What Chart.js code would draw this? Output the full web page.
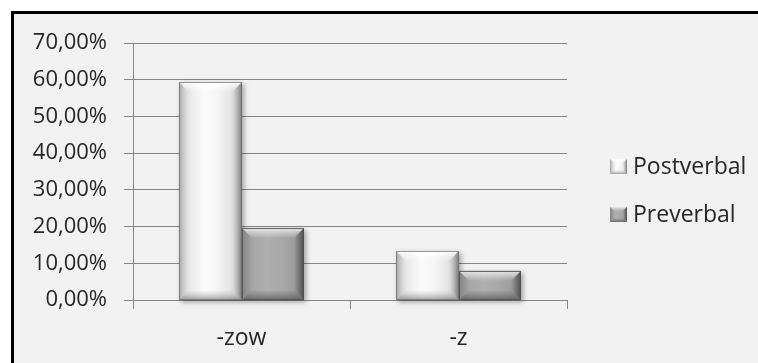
<!DOCTYPE html>
<html>
<head>
<meta charset="utf-8">
<script src="https://cdn.jsdelivr.net/npm/chart.js@4"></script>
<style>
  html, body { margin: 0; padding: 0; background: #ffffff; }
  canvas { display: block; }
</style>
</head>
<body>
<canvas id="chart" width="758" height="363"></canvas>
<script>
// Share of each ending by verb position
const categories = ['-zow', '-z'];
const seriesNames = ['Postverbal', 'Preverbal'];
const postverbal = [59.3, 13.4];
const preverbal = [19.5, 8.0];
const yTicks = [0, 10, 20, 30, 40, 50, 60, 70];

const FONT = "'Open Sans', sans-serif";
const TEXT = '#262626';
const LINE = '#868686';

// Bevelled fill schemes for the two series
const palettes = [
  {
    base: '#f2f2f2',
    body: ['#d2d2d2', '#ececec', '#fbfbfb', '#f6f6f6', '#e6e6e6', '#cbcbcb'],
    top: ['rgba(255,255,255,0.95)', 'rgba(255,255,255,0)'],
    left: ['rgba(135,135,135,0.6)', 'rgba(200,200,200,0)'],
    right: ['rgba(170,170,170,0)', 'rgba(100,100,100,0.8)'],
    bottom: ['rgba(170,170,170,0)', 'rgba(115,115,115,0.65)'],
    edge: 'rgba(110,110,110,0.7)'
  },
  {
    base: '#a9a9a9',
    body: ['#999999', '#a8a8a8', '#afafaf', '#aaaaaa', '#a0a0a0', '#909090'],
    top: ['rgba(238,238,238,0.9)', 'rgba(238,238,238,0)'],
    left: ['rgba(110,110,110,0.5)', 'rgba(110,110,110,0)'],
    right: ['rgba(80,80,80,0)', 'rgba(65,65,65,0.85)'],
    bottom: ['rgba(80,80,80,0)', 'rgba(75,75,75,0.65)'],
    edge: 'rgba(80,80,80,0.85)'
  }
];

function poly(ctx, pts, fill) {
  ctx.beginPath();
  ctx.moveTo(pts[0][0], pts[0][1]);
  for (let i = 1; i < pts.length; i++) ctx.lineTo(pts[i][0], pts[i][1]);
  ctx.closePath();
  ctx.fillStyle = fill;
  ctx.fill();
}

function grad(ctx, x0, y0, x1, y1, stops) {
  const g = ctx.createLinearGradient(x0, y0, x1, y1);
  stops.forEach((c, i, a) => g.addColorStop(i / (a.length - 1), c));
  return g;
}

function bevelBox(ctx, l, t, r, b, pal, bev, shadow, edge) {
  const w = r - l, h = b - t;
  if (w <= 0 || h <= 0) return;
  const k = Math.min(bev, w / 2, h / 2);
  ctx.save();
  if (shadow) {
    ctx.save();
    ctx.shadowColor = 'rgba(0,0,0,0.35)';
    ctx.shadowBlur = 5;
    ctx.shadowOffsetX = 2;
    ctx.shadowOffsetY = 2;
    ctx.fillStyle = pal.base;
    ctx.fillRect(l, t, w, h);
    ctx.restore();
  }
  ctx.fillStyle = grad(ctx, l, 0, r, 0, pal.body);
  ctx.fillRect(l, t, w, h);
  ctx.beginPath();
  ctx.rect(l, t, w, h);
  ctx.clip();
  poly(ctx, [[l, t], [r, t], [r - k, t + k], [l + k, t + k]], grad(ctx, 0, t, 0, t + k, pal.top));
  poly(ctx, [[l, t], [l + k, t + k], [l + k, b - k], [l, b]], grad(ctx, l, 0, l + k, 0, pal.left));
  poly(ctx, [[r, t], [r, b], [r - k, b - k], [r - k, t + k]], grad(ctx, r - k, 0, r, 0, pal.right));
  poly(ctx, [[l, b], [l + k, b - k], [r - k, b - k], [r, b]], grad(ctx, 0, b - k, 0, b, pal.bottom));
  if (edge) {
    ctx.strokeStyle = pal.edge;
    ctx.lineWidth = 1;
    ctx.strokeRect(l + 0.5, t + 0.5, w - 1, h - 1);
  }
  ctx.restore();
}

// Panel background with the heavy top/left frame
const panelPlugin = {
  id: 'panel',
  beforeDraw(chart) {
    const ctx = chart.ctx;
    ctx.save();
    ctx.fillStyle = '#ffffff';
    ctx.fillRect(0, 0, chart.width, chart.height);
    ctx.fillStyle = '#f2f2f2';
    ctx.fillRect(11, 11, chart.width - 11, chart.height - 11);
    ctx.fillStyle = '#000000';
    ctx.fillRect(11, 11, chart.width - 11, 3);
    ctx.fillRect(11, 11, 3, chart.height - 11);
    ctx.restore();
  }
};

// Re-paint each bar with a bevel, using the positions Chart.js computed
const bevelPlugin = {
  id: 'bevel',
  afterDatasetsDraw(chart) {
    const ctx = chart.ctx;
    chart.data.datasets.forEach((ds, di) => {
      const meta = chart.getDatasetMeta(di);
      meta.data.forEach(el => {
        const p = el.getProps(['x', 'y', 'base', 'width'], true);
        const l = Math.round(p.x - p.width / 2);
        const r = Math.round(p.x + p.width / 2);
        bevelBox(ctx, l, Math.round(p.y), r, Math.round(p.base), palettes[di], 10, true, true);
      });
    });
  }
};

// Legend on the right
const legendPlugin = {
  id: 'sideLegend',
  afterDraw(chart) {
    const ctx = chart.ctx;
    const x = chart.chartArea.right + 43;
    const rows = [174, 222];
    ctx.save();
    chart.data.datasets.forEach((ds, i) => {
      const base = rows[i];
      bevelBox(ctx, x, base - 15, x + 17, base, palettes[i], 4, false, false);
      ctx.font = '23px ' + FONT;
      ctx.fillStyle = TEXT;
      ctx.textBaseline = 'alphabetic';
      ctx.textAlign = 'left';
      ctx.fillText(ds.label, x + 23, base);
    });
    ctx.restore();
  }
};

new Chart(document.getElementById('chart'), {
  type: 'bar',
  data: {
    labels: categories,
    datasets: [
      { label: seriesNames[0], data: postverbal, backgroundColor: palettes[0].base },
      { label: seriesNames[1], data: preverbal, backgroundColor: palettes[1].base }
    ]
  },
  options: {
    responsive: false,
    animation: false,
    datasets: { bar: { categoryPercentage: 0.576, barPercentage: 1.0 } },
    layout: { padding: { left: 28, top: 43, right: 191, bottom: 0 } },
    plugins: { legend: { display: false }, tooltip: { enabled: false } },
    scales: {
      x: {
        offset: true,
        grid: { display: true, drawOnChartArea: false, drawTicks: true, tickLength: 9, color: LINE, offset: true },
        border: { color: LINE },
        ticks: { font: { family: FONT, size: 23 }, color: TEXT, padding: 16 },
        afterFit(s) { s.height = 63; }
      },
      y: {
        min: yTicks[0],
        max: yTicks[yTicks.length - 1],
        ticks: {
          stepSize: yTicks[1] - yTicks[0],
          font: { family: FONT, size: 22 },
          color: TEXT,
          padding: 17,
          callback: v => v.toFixed(2).replace('.', ',') + '%'
        },
        grid: { color: LINE, tickLength: 9 },
        border: { color: LINE },
        afterFit(s) { s.width = 105; }
      }
    }
  },
  plugins: [panelPlugin, bevelPlugin, legendPlugin]
});
</script>
</body>
</html>
